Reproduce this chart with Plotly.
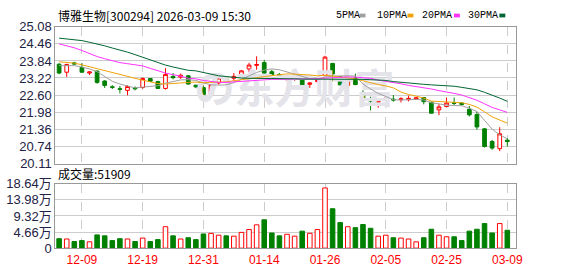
import plotly.graph_objects as go

dates = ["12-04","12-05","12-08","12-09","12-10","12-11","12-12","12-15","12-16","12-17",
         "12-18","12-19","12-22","12-23","12-24","12-25","12-26","12-29","12-30","12-31",
         "01-05","01-06","01-07","01-08","01-09","01-12","01-13","01-14","01-15","01-16",
         "01-19","01-20","01-21","01-22","01-23","01-26","01-27","01-28","01-29","01-30",
         "02-02","02-03","02-04","02-05","02-06","02-09","02-10","02-11","02-12","02-13",
         "02-24","02-25","02-26","02-27","03-02","03-03","03-04","03-05","03-06","03-09"]

opens = [23.72,23.43,23.77,23.60,23.40,23.47,23.11,22.90,22.83,22.77,
         22.86,22.87,23.20,23.09,22.84,23.28,23.25,23.30,22.96,22.87,
         22.63,23.04,23.19,23.21,23.31,23.55,23.68,23.78,23.45,23.35,
         23.16,23.17,23.17,22.99,23.09,23.30,23.75,23.27,22.95,23.22,
         22.62,22.42,22.34,22.44,22.45,22.43,22.43,22.45,22.51,22.34,
         22.06,22.18,22.32,22.31,22.08,21.89,21.37,20.91,20.65,20.96]
highs = [23.76,23.74,23.81,23.76,23.46,23.50,23.14,22.96,22.93,22.96,
         22.91,23.24,23.22,23.12,23.58,23.40,23.38,23.33,22.97,22.95,
         22.99,23.28,23.27,23.40,23.50,23.77,24.01,23.88,23.52,23.40,
         23.32,23.33,23.27,23.07,23.20,24.03,23.77,23.30,23.16,23.38,
         22.77,22.54,22.43,22.66,22.60,22.52,22.58,22.53,22.53,22.36,
         22.28,22.51,22.51,22.33,22.20,22.00,21.40,20.97,21.43,21.03]
lows = [23.36,23.26,23.71,23.42,23.33,23.01,22.86,22.82,22.66,22.59,
        22.77,22.84,23.08,22.82,22.80,23.17,23.19,22.98,22.85,22.61,
        22.61,22.98,23.06,23.12,23.27,23.43,23.52,23.38,23.30,23.15,
        23.12,23.12,22.91,22.86,23.06,23.16,23.10,22.95,22.80,22.96,
        22.30,22.04,22.14,22.41,22.36,22.33,22.37,22.43,22.26,21.93,
        21.87,22.16,22.23,22.21,21.82,21.34,20.69,20.61,20.56,20.73]
closes = [23.40,23.71,23.73,23.43,23.44,23.06,22.95,22.88,22.81,22.91,
          22.83,23.20,23.10,22.84,23.35,23.23,23.32,23.00,22.90,22.62,
          22.97,23.22,23.09,23.28,23.48,23.69,23.71,23.40,23.35,23.21,
          23.22,23.21,22.97,23.04,23.13,23.98,23.37,22.97,23.14,22.98,
          22.41,22.39,22.41,22.49,22.42,22.46,22.48,22.50,22.36,21.94,
          22.17,22.31,22.30,22.26,21.88,21.44,20.73,20.67,21.19,20.91]
volumes = [27400,26500,19200,21900,18300,38400,35600,21900,27400,26500,
           19200,29200,19200,24700,62100,35600,26500,30200,24700,41100,
           42900,37500,35600,34700,45700,53900,67600,82200,43900,35600,
           40200,34700,49300,43000,53900,174500,114200,74000,62100,59400,
           68500,57600,34700,37500,30200,29200,26500,18300,30200,54800,
           37500,32900,32900,21900,49300,54800,71300,43900,71300,51909]

ma5 = [23.67,23.68,23.67,23.62,23.55,23.45,23.28,23.10,23.00,22.92,
       22.86,22.89,22.92,22.94,23.03,23.10,23.15,23.16,23.13,23.04,
       22.97,22.96,22.97,23.05,23.18,23.30,23.42,23.51,23.55,23.52,
       23.44,23.34,23.26,23.20,23.17,23.25,23.29,23.30,23.30,23.29,
       23.00,22.82,22.66,22.55,22.43,22.42,22.43,22.44,22.42,22.32,
       22.28,22.23,22.22,22.21,22.12,22.00,21.68,21.36,21.15,21.01]
ma10 = [23.81,23.79,23.76,23.70,23.63,23.56,23.48,23.40,23.34,23.27,
        23.20,23.14,23.08,23.02,23.00,23.01,23.04,23.06,23.07,23.05,
        23.06,23.08,23.08,23.12,23.15,23.19,23.23,23.27,23.30,23.34,
        23.37,23.36,23.35,23.33,23.30,23.32,23.29,23.25,23.22,23.19,
        23.12,23.04,22.98,22.93,22.86,22.71,22.62,22.56,22.49,22.38,
        22.36,22.35,22.34,22.32,22.26,22.16,21.99,21.81,21.69,21.58]
ma20 = [24.46,24.39,24.32,24.22,24.11,24.00,23.92,23.85,23.78,23.74,
        23.71,23.66,23.57,23.48,23.40,23.34,23.29,23.21,23.19,23.13,
        23.09,23.06,23.06,23.08,23.10,23.13,23.15,23.16,23.17,23.17,
        23.17,23.18,23.19,23.19,23.20,23.22,23.24,23.26,23.26,23.25,
        23.23,23.21,23.14,23.10,23.06,23.01,22.95,22.91,22.87,22.82,
        22.76,22.72,22.66,22.60,22.50,22.41,22.28,22.15,22.06,21.97]
ma30 = [24.67,24.64,24.62,24.58,24.52,24.46,24.39,24.31,24.24,24.16,
        24.07,23.97,23.89,23.78,23.69,23.62,23.56,23.50,23.48,23.41,
        23.36,23.30,23.27,23.24,23.22,23.21,23.21,23.21,23.20,23.20,
        23.19,23.19,23.18,23.18,23.17,23.18,23.18,23.19,23.19,23.18,
        23.17,23.16,23.15,23.13,23.09,23.06,23.03,23.01,22.99,22.97,
        22.96,22.95,22.92,22.88,22.84,22.79,22.70,22.60,22.49,22.37]

date_ticks = ["12-09","12-19","12-31","01-14","01-26","02-05","02-25","03-09"]
price_tick_text = ["25.08","24.46","23.84","23.22","22.60","21.98","21.36","20.74","20.11"]
vol_tick_vals = [0, 46600, 93200, 139800, 186400]
vol_tick_text = ["0", "4.66万", "9.32万", "13.98万", "18.64万"]

title_text = "博雅生物[300294] 2026-03-09 15:30"
vol_label = "成交量:51909"
watermark = "の东方财富"
ma_names = ["5PMA", "10PMA", "20PMA", "30PMA"]
ma_colors = ["#a0a0a0", "#f0a30a", "#ff33ff", "#006633"]

RED = "#ff0000"
GREEN = "#008000"
W, H = 578, 276

fig = go.Figure()

# watermark (drawn first so the marks sit on top of it)
fig.add_trace(go.Scatter(x=["01-20"], y=[22.66], mode="text", text=[watermark],
                         textfont=dict(size=40, color="#e3e3e9", family="Noto Sans CJK SC",
                                       weight="bold"),
                         hoverinfo="skip", showlegend=False, xaxis="x", yaxis="y"))

for name, vals, col in zip(ma_names, [ma5, ma10, ma20, ma30], ma_colors):
    fig.add_trace(go.Scatter(x=dates, y=vals, mode="lines", line=dict(color=col, width=1),
                             showlegend=False, hoverinfo="skip", xaxis="x", yaxis="y"))

fig.add_trace(go.Candlestick(
    x=dates, open=opens, high=highs, low=lows, close=closes,
    increasing=dict(line=dict(color=RED, width=1), fillcolor="#ffffff"),
    decreasing=dict(line=dict(color=GREEN, width=1), fillcolor=GREEN),
    whiskerwidth=0, showlegend=False, xaxis="x", yaxis="y"))

up = [c >= o for o, c in zip(opens, closes)]
fig.add_trace(go.Bar(
    x=dates, y=volumes, width=0.6,
    marker=dict(color=["#ffffff" if u else GREEN for u in up],
                line=dict(color=[RED if u else GREEN for u in up], width=1)),
    showlegend=False, xaxis="x2", yaxis="y2"))

xl, xr = 56 / W, 522 / W
p_top, p_bot = 1 - 21 / H, 1 - 165.5 / H
v_top, v_bot = 1 - 187 / H, 1 - 255 / H

axis_common = dict(showline=True, linecolor="#999999", linewidth=1, mirror=True,
                   zeroline=False)

fig.update_layout(
    width=W, height=H, margin=dict(l=0, r=0, t=0, b=0),
    paper_bgcolor="white", plot_bgcolor="white",
    showlegend=False, bargap=0.4,
    font=dict(family="Liberation Sans, Arial", size=12, color="#333333"),
    xaxis=dict(domain=[xl, xr], type="category", categoryorder="array", categoryarray=dates,
               range=[-0.5, 60.1], tickvals=date_ticks, showticklabels=False,
               showgrid=True, gridcolor="#cccccc", griddash="dash", gridwidth=1,
               rangeslider=dict(visible=False), anchor="y", ticks="", **axis_common),
    yaxis=dict(domain=[p_bot, p_top], range=[20.11, 25.08],
               tickvals=[float(t) for t in price_tick_text], ticktext=price_tick_text,
               showgrid=True, gridcolor="#cccccc", gridwidth=1, ticks="",
               tickfont=dict(size=13, color="#222244", family="Liberation Sans, Arial"),
               anchor="x", **axis_common),
    xaxis2=dict(domain=[xl, xr], type="category", categoryorder="array", categoryarray=dates,
                range=[-0.5, 60.1], tickvals=date_ticks, matches="x",
                showgrid=True, gridcolor="#cccccc", griddash="dash", gridwidth=1,
                tickfont=dict(size=12, color=RED, family="Liberation Sans, Arial"),
                anchor="y2", ticks="", **axis_common),
    yaxis2=dict(domain=[v_bot, v_top], range=[0, 186400],
                tickvals=vol_tick_vals, ticktext=vol_tick_text,
                showgrid=True, gridcolor="#cccccc", gridwidth=1, ticks="",
                tickfont=dict(size=13, color="#222244", family="Liberation Sans, Noto Sans CJK SC"),
                anchor="x2", **axis_common),
)

annotations = [
    dict(text=title_text, x=57 / W, y=1 - 8.5 / H, xref="paper", yref="paper",
         xanchor="left", yanchor="middle", showarrow=False,
         font=dict(size=12, color="#000000", family="Noto Sans CJK SC")),
    dict(text=vol_label, x=57 / W, y=1 - 176 / H, xref="paper", yref="paper",
         xanchor="left", yanchor="middle", showarrow=False,
         font=dict(size=12, color="#000000", family="Noto Sans CJK SC")),
]
legend_x = [338, 380, 425, 472]
square_x = [367, 415.5, 462.5, 508.5]
shapes = []
for name, lx, sx, col in zip(ma_names, legend_x, square_x, ma_colors):
    annotations.append(dict(text=name, x=lx / W, y=1 - 8.5 / H, xref="paper", yref="paper",
                            xanchor="left", yanchor="middle", showarrow=False,
                            font=dict(size=10, color="#000000", family="Liberation Mono")))
    shapes.append(dict(type="rect", xref="paper", yref="paper",
                       x0=(sx - 3) / W, x1=(sx + 3) / W, y0=1 - 11 / H, y1=1 - 7 / H,
                       fillcolor=col, line=dict(width=0)))
fig.update_layout(annotations=annotations, shapes=shapes)

fig.write_html("out.html")
